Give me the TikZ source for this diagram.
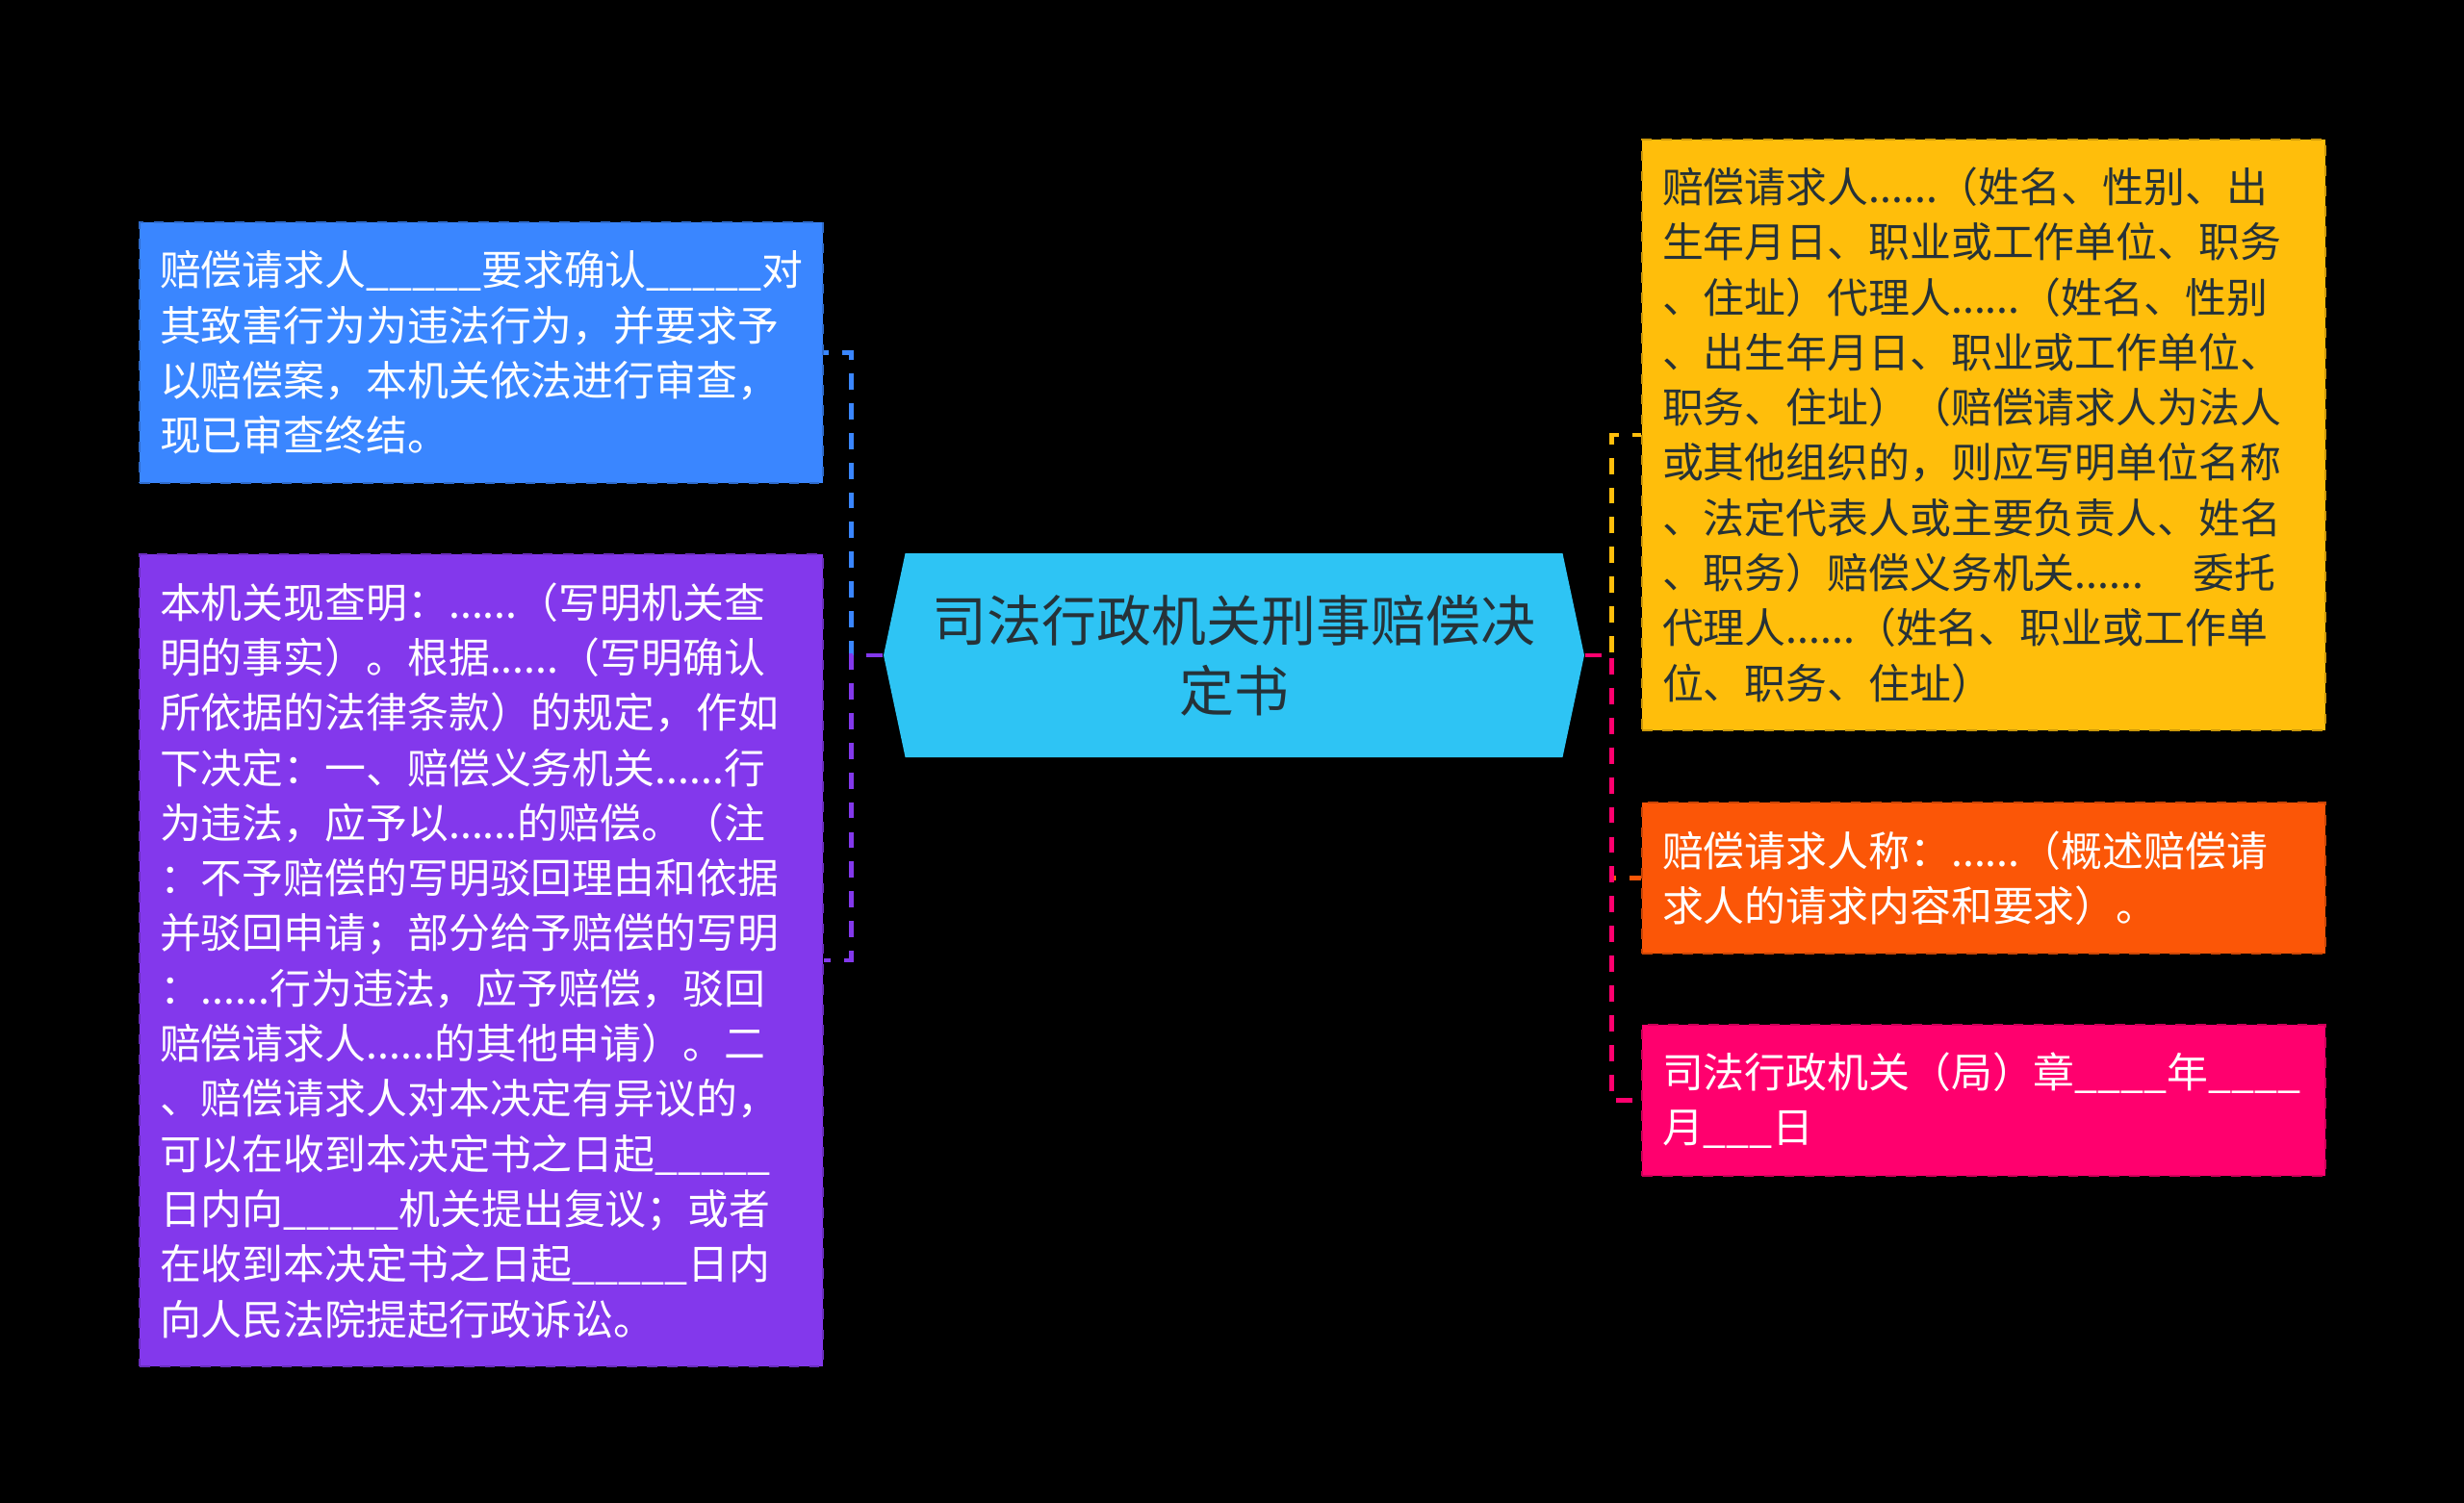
\documentclass[tikz,border=0pt]{standalone}
\usepackage{fontspec}
\setmainfont{Noto Sans CJK SC}
\usetikzlibrary{positioning,shapes.symbols}
\definecolor{mBlue}{HTML}{3A86FF}
\definecolor{mPurple}{HTML}{8338EC}
\definecolor{mYellow}{HTML}{FFBE0B}
\definecolor{mOrange}{HTML}{FB5607}
\definecolor{mPink}{HTML}{FF006E}
\definecolor{mCyan}{HTML}{2EC4F4}
\definecolor{mInk}{HTML}{263238}
\tikzset{
  leaf/.style ={rectangle,fill=#1,draw=#1!80!black,dashed,line width=0.6pt,text=white,
                text width=6.68cm,align=left,inner xsep=0.21cm,inner ysep=0.2cm,
                minimum width=7.1cm,font=\fontsize{12.2}{16.3}\selectfont},
  hub/.style  ={signal,signal to=east and west,signal pointer angle=156,fill=mCyan,text=mInk,
                align=center,minimum width=7.28cm,minimum height=2.12cm,
                font=\fontsize{16.2}{20.8}\selectfont},
  link/.style ={dashed,dash pattern=on 4.8pt off 4pt,line width=1.3pt},
}
\begin{document}
\begin{tikzpicture}[node distance=7mm]
  \fill[black] (0,0) rectangle (25.6,-15.62);
  \node[hub] (title) at (12.82,-6.81) {司法行政机关刑事赔偿决\\定书};
  % left side
  \node[leaf=mBlue,minimum height=2.71cm,anchor=north west] (claim) at (1.44,-2.30)
        {赔偿请求人\_\_\_\_\_要求确认\_\_\_\_\_对\\其致害行为为违法行为，并要求予\\以赔偿案，本机关依法进行审查，\\现已审查终结。};
  \node[leaf=mPurple,minimum height=8.44cm,below=0.72cm of claim] (decide)
        {本机关现查明：......（写明机关查\\明的事实）。根据......（写明确认\\所依据的法律条款）的规定，作如\\下决定：一、赔偿义务机关......行\\为违法，应予以......的赔偿。（注\\：不予赔偿的写明驳回理由和依据\\并驳回申请；部分给予赔偿的写明\\：......行为违法，应予赔偿，驳回\\赔偿请求人......的其他申请）。二\\、赔偿请求人对本决定有异议的，\\可以在收到本决定书之日起\_\_\_\_\_\\日内向\_\_\_\_\_机关提出复议；或者\\在收到本决定书之日起\_\_\_\_\_日内\\向人民法院提起行政诉讼。};
  % right side
  \node[leaf=mYellow,text=mInk,minimum height=6.14cm,anchor=north west] (party) at (17.05,-1.44)
        {赔偿请求人......（姓名、性别、出\\生年月日、职业或工作单位、职务\\、住址）代理人......（姓名、性别\\、出生年月日、职业或工作单位、\\职务、住址）（赔偿请求人为法人\\或其他组织的，则应写明单位名称\\、法定代表人或主要负责人、姓名\\、职务）赔偿义务机关......\hspace{1.2em}委托\\代理人......（姓名、职业或工作单\\位、职务、住址）};
  \node[leaf=mOrange,minimum height=1.57cm,below=0.73cm of party] (request)
        {赔偿请求人称：......（概述赔偿请\\求人的请求内容和要求）。};
  \node[leaf=mPink,minimum height=1.57cm,below=0.72cm of request] (seal)
        {司法行政机关（局）章\_\_\_\_年\_\_\_\_\\月\_\_\_日};
  % connectors
  \draw[link,mBlue]   (title.west) -- ++(-0.33,0) |- (claim.east);
  \draw[link,mPurple] (title.west) -- ++(-0.33,0) |- (decide.east);
  \draw[link,mYellow] (title.east) -- ++(0.28,0) |- (party.west);
  \draw[link,mOrange] (title.east) -- ++(0.28,0) |- (request.west);
  \draw[link,mPink]   (title.east) -- ++(0.28,0) |- (seal.west);
\end{tikzpicture}
\end{document}
